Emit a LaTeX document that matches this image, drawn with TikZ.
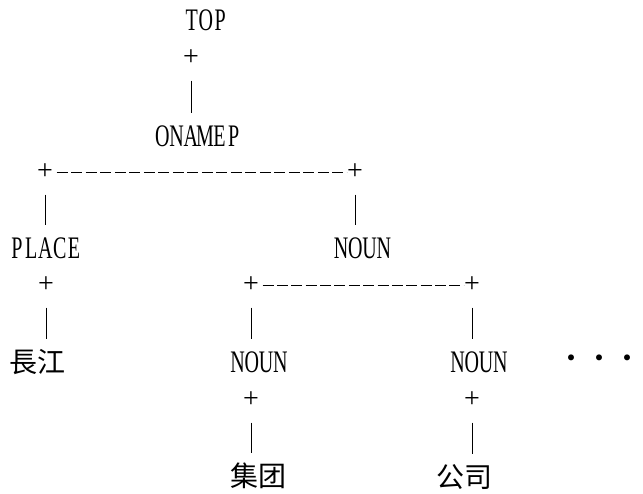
\documentclass[tikz,border=0pt]{standalone}
\usepackage{fontspec}
\usetikzlibrary{decorations}
\newfontfamily\latinf[FakeStretch=0.64]{Liberation Serif}
\newfontfamily\plusf{Liberation Serif}
\newfontfamily\cjk{Noto Sans CJK SC}
\newlength\monocw \setlength\monocw{10.7pt}
\makeatletter
\def\mono#1{\mono@loop#1\relax}
\def\mono@loop#1{\ifx\relax#1\else\makebox[\monocw]{#1}\expandafter\mono@loop\fi}
\makeatother
\begin{document}
\begin{tikzpicture}[x=0.75pt,y=-0.75pt,
  lab/.style={inner sep=0pt, font=\latinf\fontsize{23.5}{23.5}\selectfont},
  han/.style={inner sep=0pt, font=\cjk\fontsize{21}{21}\selectfont},
  junc/.style={inner sep=0pt, font=\plusf\fontsize{21}{21}\selectfont},
  bar/.style={line width=0.6pt, shorten <=17pt, shorten >=17pt},
  hdash/.style={line width=0.6pt, dash pattern=on 8.2pt off 2.5pt, dash expand off}]
\useasboundingbox (0,0) rectangle (643,493);
\node[lab] (top) at (206,20) {\mono{TOP}};
\node[junc] (j0) at (191,58) {+};
\node[lab] (onamep) at (198,136) {\mono{ONAMEP}};
\node[junc] (jL) at (45,172) {+};
\node[junc] (jR) at (355,172) {+};
\node[lab] (place) at (45.5,248) {\mono{PLACE}};
\node[lab] (noun1) at (362.5,248) {\mono{NOUN}};
\node[junc] (jP) at (46,285) {+};
\node[junc] (jA) at (251,285) {+};
\node[junc] (jB) at (472,285) {+};
\node[han] (changjiang) at (37,362) {長江};
\node[lab] (noun2) at (259,362) {\mono{NOUN}};
\node[lab] (noun3) at (479,362) {\mono{NOUN}};
\node[han] (dots) at (599,362) {・・・};
\node[junc] (jC) at (251,400) {+};
\node[junc] (jD) at (472,400) {+};
\node[han] (jituan) at (258,476) {集团};
\node[han] (gongsi) at (464.5,477) {公司};
\draw[bar] (j0.center) -- (j0.center |- onamep.center);
\draw[bar] (jL.center) -- (jL.center |- place.center);
\draw[bar] (jR.center) -- (jR.center |- noun1.center);
\draw[bar] (jP.center) -- (jP.center |- changjiang.center);
\draw[bar] (jA.center) -- (jA.center |- noun2.center);
\draw[bar] (jB.center) -- (jB.center |- noun3.center);
\draw[bar] (jC.center) -- (jC.center |- jituan.center);
\draw[bar] (jD.center) -- (jD.center |- gongsi.center);
\draw[hdash] (jL.east) -- (jR.west);
\draw[hdash] (jA.east) -- (jB.west);
\end{tikzpicture}
\end{document}
